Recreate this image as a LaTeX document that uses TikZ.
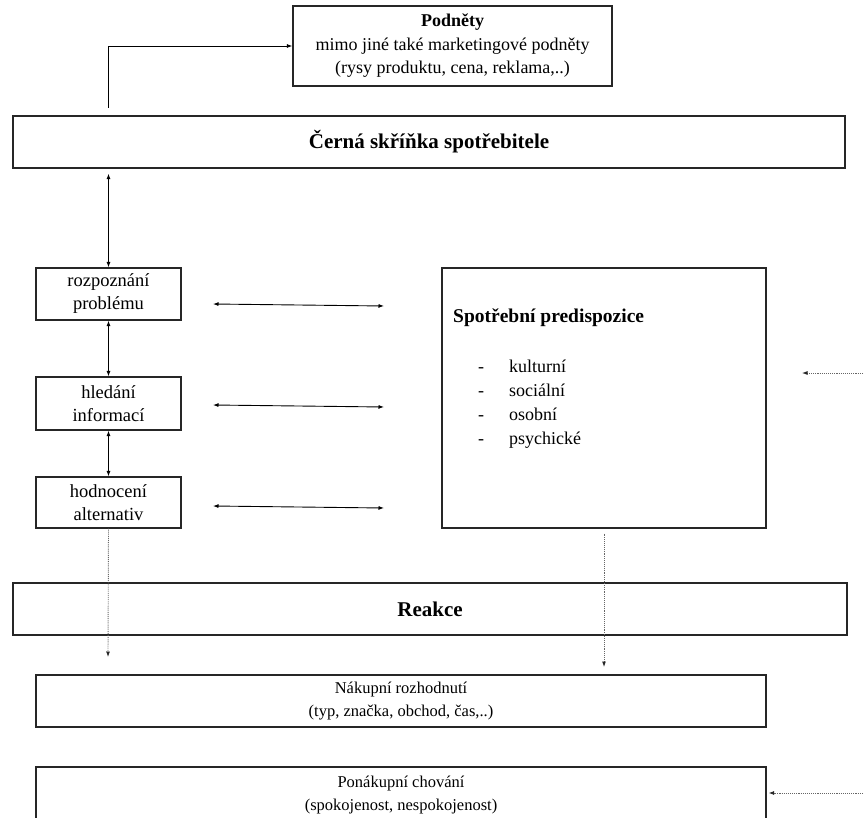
\documentclass[tikz,border=0pt]{standalone}
\usepackage{fontspec}
\setmainfont{Liberation Serif}
\usetikzlibrary{arrows.meta}

\begin{document}
\begin{tikzpicture}[x=1pt,y=-1pt,
  box/.style={draw=black!85,line width=1.1pt,inner sep=0pt,align=center},
  link/.style={line width=0.9pt,-{Latex[length=5.5pt,width=4pt]}},
  dbl/.style={line width=0.9pt,{Latex[length=5.5pt,width=4pt]}-{Latex[length=5.5pt,width=4pt]}},
  dots/.style={black!60,line width=0.9pt,densely dotted,-{Latex[length=5.5pt,width=4pt,color=black!85]}},
  txt/.style={font=\fontsize{18.5}{23}\selectfont},
  small/.style={font=\fontsize{16.5}{23}\selectfont},
  title/.style={font=\fontsize{21}{26}\selectfont\bfseries}]
\useasboundingbox (0,0) rectangle (864,818);

% boxes
\node[box,font=\fontsize{18}{23.5}\selectfont,minimum width=319pt,minimum height=80pt] (podnety) at (452.5,46) {\textbf{Podněty}\\mimo jiné také marketingové podněty\\(rysy produktu, cena, reklama,..)};
\node[box,title,minimum width=832pt,minimum height=52pt] (cerna) at (429,142) {Černá skříňka spotřebitele};
\node[box,txt,minimum width=145pt,minimum height=52pt] (rozpoz) at (108.5,294) {rozpoznání\\problému};
\node[box,txt,minimum width=145pt,minimum height=53pt] (hledani) at (108.5,403.5) {hledání\\informací};
\node[box,txt,minimum width=145pt,minimum height=51pt] (hodnoc) at (108.5,502.5) {hodnocení\\alternativ};
\node[box,minimum width=324pt,minimum height=260pt] (predisp) at (604,398) {};
\node[anchor=base west,inner sep=0pt,font=\fontsize{19.5}{23}\selectfont\bfseries] (predtitle) at (453,322) {Spotřební predispozice};
\foreach \w [count=\i] in {kulturní,sociální,osobní,psychické} {
  \node[anchor=base west,inner sep=0pt,font=\fontsize{18}{23}\selectfont] (dash\i) at (478,348+24*\i) {-};
  \node[anchor=base west,inner sep=0pt,font=\fontsize{18}{23}\selectfont] (item\i) at (509,348+24*\i) {\w};
}
\node[box,title,minimum width=834pt,minimum height=52pt] (reakce) at (430,609) {Reakce};
\node[box,small,minimum width=730pt,minimum height=52pt] (nakup) at (401,701) {Nákupní rozhodnutí\\(typ, značka, obchod, čas,..)};
\node[box,small,minimum width=730pt,minimum height=56pt] (ponakup) at (401,795) {Ponákupní chování\\(spokojenost, nespokojenost)};

% solid arrows
\coordinate (stim) at (108,108);
\draw[link] (stim) |- (podnety.west);
\draw[dbl,shorten <=5pt] (cerna.south -| rozpoz) -- (rozpoz.north);
\draw[dbl] (rozpoz.south) -- (hledani.north);
\draw[dbl] (hledani.south) -- (hodnoc.north);
\foreach \y [count=\i] in {304,405,506} {
  \coordinate (hl\i) at (213,\y);
  \coordinate (hr\i) at (384,\y+2);
  \draw[dbl] (hl\i) -- (hr\i);
}

% dotted arrows
\coordinate (envA) at (863,373);
\coordinate (envAend) at (802,373);
\draw[dots] (envA) -- (envAend);
\coordinate (choiceA) at (108,657);
\draw[dots] (hodnoc.south) -- (choiceA);
\coordinate (choiceB) at (604,667);
\draw[dots,shorten <=5pt] (predisp.south) -- (choiceB);
\coordinate (envB) at (863,793);
\draw[dots,shorten >=2pt] (envB) -- (envB -| ponakup.east);
\end{tikzpicture}
\end{document}
